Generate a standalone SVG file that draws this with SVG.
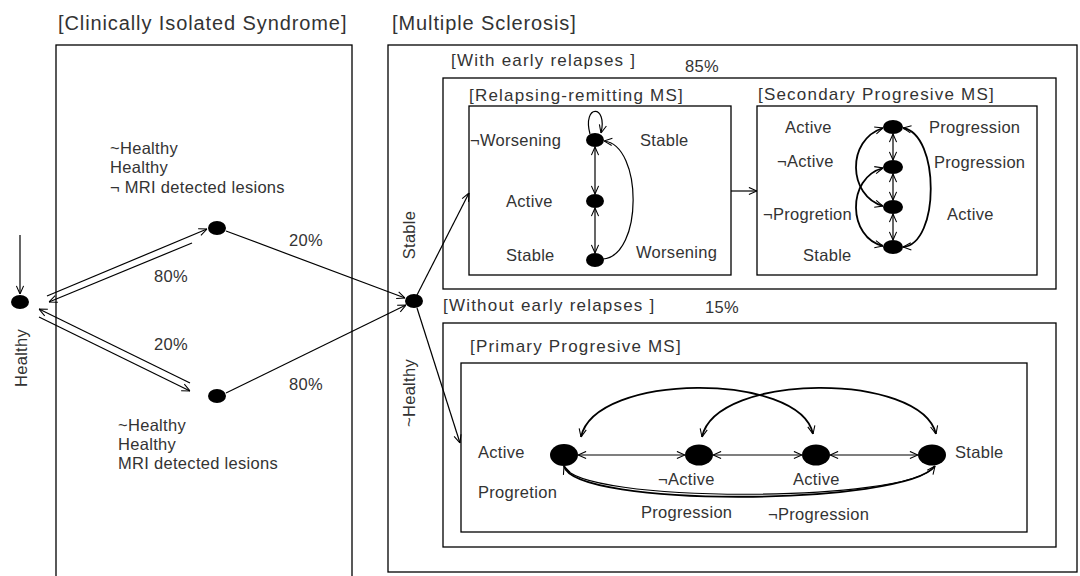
<svg xmlns="http://www.w3.org/2000/svg" width="1080" height="576" viewBox="0 0 1080 576">
<defs>
<style>
.t{font-family:"Liberation Sans",Arial,sans-serif;font-size:16.5px;letter-spacing:0.3px;fill:#333}
.h1{font-size:20px;letter-spacing:0.9px}
.h2{font-size:17px;letter-spacing:1.2px}
.box{fill:none;stroke:#000;stroke-width:1.3}
.e{fill:none;stroke:#000;stroke-width:1.2}
.c2{fill:none;stroke:#000;stroke-width:1.8}
.n{fill:#000}
</style>
<marker id="a" viewBox="0 0 10 10" refX="10" refY="5" markerWidth="9" markerHeight="9" markerUnits="userSpaceOnUse" orient="auto-start-reverse">
<path d="M1,1 L10,5 L1,9" fill="none" stroke="#000" stroke-width="1.2"/>
</marker>
</defs>
<rect width="1080" height="576" fill="#fff"/>

<g id="cis">
<rect class="box" x="56" y="45" width="296" height="545"/>
<text class="t h1" x="58" y="30">[Clinically Isolated Syndrome]</text>
</g>
<g id="ms">
<rect class="box" x="388" y="45" width="689" height="527"/>
<text class="t h1" x="392" y="30">[Multiple Sclerosis]</text>
</g>
<g id="with-early">
<rect class="box" x="443" y="78" width="613" height="211"/>
<text class="t h2" x="451" y="66">[With early relapses ]</text>
<text class="t" x="685" y="72">85%</text>
</g>
<g id="rrms">
<rect class="box" x="469" y="106" width="262" height="169"/>
<text class="t h2" x="469" y="101">[Relapsing-remitting MS]</text>
</g>
<g id="spms">
<rect class="box" x="757" y="106" width="280" height="169"/>
<text class="t h2" x="758" y="100">[Secondary Progresive MS]</text>
</g>
<g id="without-early">
<rect class="box" x="443" y="323" width="613" height="224"/>
<text class="t h2" x="443" y="311">[Without early relapses ]</text>
<text class="t" x="705" y="313">15%</text>
</g>
<g id="ppms">
<rect class="box" x="461" y="363" width="566" height="169"/>
<text class="t h2" x="470" y="352">[Primary Progresive MS]</text>
</g>

<g id="connectors">
<line class="e" x1="20" y1="235" x2="20" y2="294" marker-end="url(#a)"/>
<line class="e" x1="47" y1="296" x2="207" y2="229" marker-end="url(#a)"/>
<line class="e" x1="192" y1="243" x2="49" y2="302" marker-end="url(#a)"/>
<line class="e" x1="190" y1="383" x2="39" y2="309" marker-end="url(#a)"/>
<line class="e" x1="39" y1="317" x2="190" y2="391" marker-end="url(#a)"/>
<line class="e" x1="226" y1="231" x2="405" y2="298" marker-end="url(#a)"/>
<line class="e" x1="226" y1="393" x2="406" y2="305" marker-end="url(#a)"/>
<line class="e" x1="417" y1="295" x2="469" y2="193" marker-end="url(#a)"/>
<line class="e" x1="417" y1="308" x2="460" y2="443" marker-end="url(#a)"/>
<line class="e" x1="731" y1="191" x2="757" y2="191" marker-end="url(#a)"/>
<!-- RRMS -->
<path class="e" d="M590,134 C582,104 608,104 601,133" marker-end="url(#a)"/>
<line class="e" x1="595" y1="147" x2="595" y2="194" marker-start="url(#a)" marker-end="url(#a)"/>
<line class="e" x1="595" y1="208" x2="595" y2="253" marker-start="url(#a)" marker-end="url(#a)"/>
<path class="e" d="M603,259 C643,256 643,145 604,141" marker-end="url(#a)"/>
<!-- SPMS -->
<line class="e" x1="893" y1="134" x2="893" y2="160" marker-start="url(#a)" marker-end="url(#a)"/>
<line class="e" x1="893" y1="174" x2="893" y2="200" marker-start="url(#a)" marker-end="url(#a)"/>
<line class="e" x1="893" y1="214" x2="893" y2="240" marker-start="url(#a)" marker-end="url(#a)"/>
<path class="c2" d="M883,128 C846,140 848,196 883,206" marker-start="url(#a)" marker-end="url(#a)"/>
<path class="c2" d="M883,168 C846,178 848,238 883,246" marker-start="url(#a)" marker-end="url(#a)"/>
<path class="c2" d="M903,128 C940,134 940,244 903,247" marker-start="url(#a)" marker-end="url(#a)"/>
<!-- PPMS -->
<line class="e" x1="578" y1="455" x2="685" y2="455" marker-start="url(#a)" marker-end="url(#a)"/>
<line class="e" x1="713" y1="455" x2="802" y2="455" marker-start="url(#a)" marker-end="url(#a)"/>
<line class="e" x1="830" y1="455" x2="918" y2="455" marker-start="url(#a)" marker-end="url(#a)"/>
<path class="c2" d="M581,437 C595,372 800,372 813,434" marker-start="url(#a)" marker-end="url(#a)"/>
<path class="c2" d="M702,437 C716,372 921,372 936,434" marker-start="url(#a)" marker-end="url(#a)"/>
<path class="c2" d="M564,466 C574,508 905,506 935,466" marker-end="url(#a)"/>
<path class="e" d="M564,466 C578,504 908,503 934,467" marker-start="url(#a)"/>
</g>

<g id="n-init">
<ellipse class="n" cx="20" cy="302" rx="9" ry="7"/>
<text class="t" transform="translate(27,358) rotate(-90)" text-anchor="middle">Healthy</text>
</g>
<g id="n-cis-neg">
<ellipse class="n" cx="217" cy="228" rx="9" ry="7"/>
<text class="t" x="110" y="154">~Healthy</text>
<text class="t" x="110" y="173">Healthy</text>
<text class="t" x="110" y="193">¬ MRI detected lesions</text>
<text class="t" x="154" y="282">80%</text>
<text class="t" x="289" y="246">20%</text>
</g>
<g id="n-cis-pos">
<ellipse class="n" cx="217" cy="396" rx="9" ry="7"/>
<text class="t" x="118" y="431">~Healthy</text>
<text class="t" x="118" y="450">Healthy</text>
<text class="t" x="118" y="469">MRI detected lesions</text>
<text class="t" x="154" y="350">20%</text>
<text class="t" x="289" y="390">80%</text>
</g>
<g id="n-ms">
<ellipse class="n" cx="414" cy="301" rx="9" ry="7"/>
<text class="t" transform="translate(415,235) rotate(-90)" text-anchor="middle">Stable</text>
<text class="t" transform="translate(415,393) rotate(-90)" text-anchor="middle">~Healthy</text>
</g>
<g id="n-rr1">
<ellipse class="n" cx="595" cy="140" rx="9" ry="7"/>
<text class="t" x="470" y="146">¬Worsening</text>
<text class="t" x="640" y="146">Stable</text>
</g>
<g id="n-rr2">
<ellipse class="n" cx="595" cy="201" rx="9" ry="7"/>
<text class="t" x="506" y="207">Active</text>
</g>
<g id="n-rr3">
<ellipse class="n" cx="595" cy="260" rx="9" ry="7"/>
<text class="t" x="506" y="261">Stable</text>
<text class="t" x="636" y="258">Worsening</text>
</g>
<g id="n-sp1">
<ellipse class="n" cx="893" cy="127" rx="10" ry="7"/>
<text class="t" x="785" y="133">Active</text>
<text class="t" x="929" y="133">Progression</text>
</g>
<g id="n-sp2">
<ellipse class="n" cx="893" cy="167" rx="10" ry="7"/>
<text class="t" x="777" y="167">¬Active</text>
<text class="t" x="934" y="168">Progression</text>
</g>
<g id="n-sp3">
<ellipse class="n" cx="893" cy="207" rx="10" ry="7"/>
<text class="t" x="763" y="220">¬Progretion</text>
<text class="t" x="947" y="220">Active</text>
</g>
<g id="n-sp4">
<ellipse class="n" cx="893" cy="247" rx="10" ry="7"/>
<text class="t" x="803" y="261">Stable</text>
</g>
<g id="n-pp1">
<ellipse class="n" cx="564" cy="455" rx="14" ry="11"/>
<text class="t" x="478" y="458">Active</text>
<text class="t" x="478" y="498">Progretion</text>
<text class="t" x="641" y="518">Progression</text>
</g>
<g id="n-pp2">
<ellipse class="n" cx="699" cy="455" rx="14" ry="10.5"/>
<text class="t" x="658" y="485">¬Active</text>
</g>
<g id="n-pp3">
<ellipse class="n" cx="816" cy="455" rx="14" ry="10.5"/>
<text class="t" x="793" y="485">Active</text>
<text class="t" x="768" y="520">¬Progression</text>
</g>
<g id="n-pp4">
<ellipse class="n" cx="932" cy="455" rx="14" ry="10.5"/>
<text class="t" x="955" y="458">Stable</text>
</g>
</svg>
